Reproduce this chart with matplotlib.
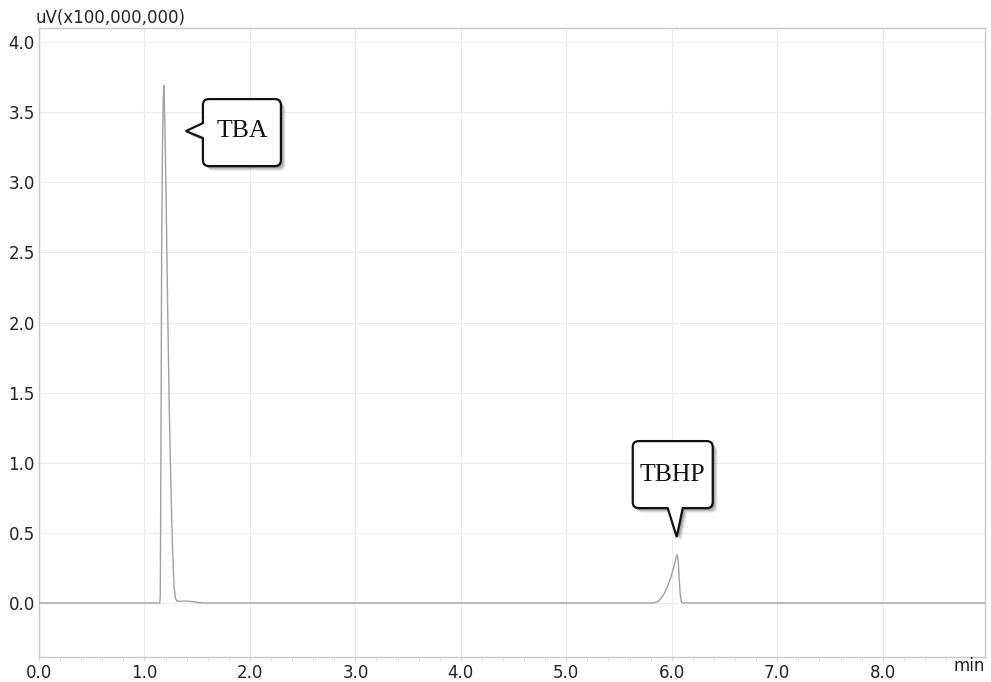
import matplotlib
matplotlib.use("Agg")
import matplotlib.pyplot as plt
import matplotlib.transforms as mtransforms
from matplotlib.path import Path
from matplotlib.patches import PathPatch
from matplotlib.ticker import MultipleLocator

# chromatogram trace (min, uV x 1e8)
time_min = [0.0, 1.145, 1.150, 1.153, 1.158, 1.163, 1.170, 1.178, 1.185,
            1.195, 1.205, 1.220, 1.235, 1.250, 1.265, 1.280, 1.295, 1.310,
            1.350, 1.400, 1.450, 1.520, 1.580,
            5.820, 5.870, 5.900, 5.930, 5.960, 5.990, 6.020, 6.040, 6.050,
            6.060, 6.070, 6.080, 6.090, 6.110, 8.97]
signal = [0.0, 0.0, 0.05, 0.5, 1.5, 2.5, 3.2, 3.6, 3.69,
          3.35, 2.9, 2.1, 1.4, 0.85, 0.42, 0.12, 0.03, 0.012,
          0.013, 0.014, 0.01, 0.003, 0.0,
          0.0, 0.01, 0.035, 0.07, 0.12, 0.18, 0.26, 0.32, 0.345,
          0.31, 0.18, 0.06, 0.01, 0.0, 0.0]

x_ticks = [0, 1, 2, 3, 4, 5, 6, 7, 8]
y_ticks = [0.0, 0.5, 1.0, 1.5, 2.0, 2.5, 3.0, 3.5, 4.0]

# peak callouts: label and pointer tip (data coords)
peak_labels = ["TBA", "TBHP"]
peak_tips = [(1.393, 3.365), (6.047, 0.47)]

W, H = 991, 682
fig = plt.figure(figsize=(W / 100, H / 100), dpi=100)
ax = fig.add_axes([39 / W, 25 / H, (985 - 39) / W, (654 - 25) / H])
ax.set_xlim(0, 8.97)
ax.set_ylim(-0.385, 4.1)

ax.plot(time_min, signal, color="#a0a0a0", lw=1.0, zorder=3)

ax.set_xticks(x_ticks)
ax.set_xticklabels([f"{v:.1f}" for v in x_ticks])
ax.set_yticks(y_ticks)
ax.set_yticklabels([f"{v:.1f}" for v in y_ticks])
ax.xaxis.set_minor_locator(MultipleLocator(0.2))
ax.grid(True, which="major", color="#ececec", lw=0.8, zorder=0)
ax.tick_params(axis="x", which="both", length=3, color="#dddddd", pad=2,
               labelsize=12, labelcolor="#222222")
ax.tick_params(axis="y", length=0, pad=3, labelsize=12, labelcolor="#222222")
for sp in ax.spines.values():
    sp.set_color("#c8c8c8")
    sp.set_linewidth(1.0)

fig.text(36 / W, 1 - 18 / H, "uV(x100,000,000)", fontsize=12, color="#222222",
         ha="left", va="center")
fig.text(985 / W, 1 - 666 / H, "min", fontsize=12, color="#222222",
         ha="right", va="center")


def callout_path(x0, x1, y0, y1, r, side, b0, b1):
    v = [(x0 + r, y0)]
    c = [Path.MOVETO]
    if side == "bottom":
        v += [(b0, y0), (0, 0), (b1, y0)]
        c += [Path.LINETO] * 3
    v += [(x1 - r, y0), (x1, y0), (x1, y0 + r),
          (x1, y1 - r), (x1, y1), (x1 - r, y1),
          (x0 + r, y1), (x0, y1), (x0, y1 - r)]
    c += [Path.LINETO, Path.CURVE3, Path.CURVE3] * 3
    if side == "left":
        v += [(x0, b1), (0, 0), (x0, b0)]
        c += [Path.LINETO] * 3
    v += [(x0, y0 + r), (x0, y0), (x0 + r, y0), (x0 + r, y0)]
    c += [Path.LINETO, Path.CURVE3, Path.CURVE3, Path.CLOSEPOLY]
    return Path(v, c)


shapes = [
    dict(box=(17, 95, -35, 32), side="left", base=(-7, 8), center=(56, 0)),
    dict(box=(-44, 36, 29, 96), side="bottom", base=(-9, 6), center=(-4, 62)),
]

for label, (tx, ty), shp in zip(peak_labels, peak_tips, shapes):
    path = callout_path(*shp["box"], 6, shp["side"], *shp["base"])
    base = mtransforms.ScaledTranslation(tx, ty, ax.transData)
    for k, a in [(5, 0.06), (4, 0.09), (3, 0.12), (2, 0.16)]:
        sh = mtransforms.Affine2D().translate(k, -k) + base
        ax.add_patch(PathPatch(path, transform=sh, facecolor="black",
                               edgecolor="none", alpha=a, clip_on=False, zorder=5))
    ax.add_patch(PathPatch(path, transform=base, facecolor="white",
                           edgecolor="#111111", lw=1.6, clip_on=False, zorder=6))
    ax.text(*shp["center"], label, transform=base, fontsize=18.5,
            family="Liberation Serif", color="#111111", ha="center",
            va="center", zorder=7)

fig.savefig("out.png", dpi=100)
